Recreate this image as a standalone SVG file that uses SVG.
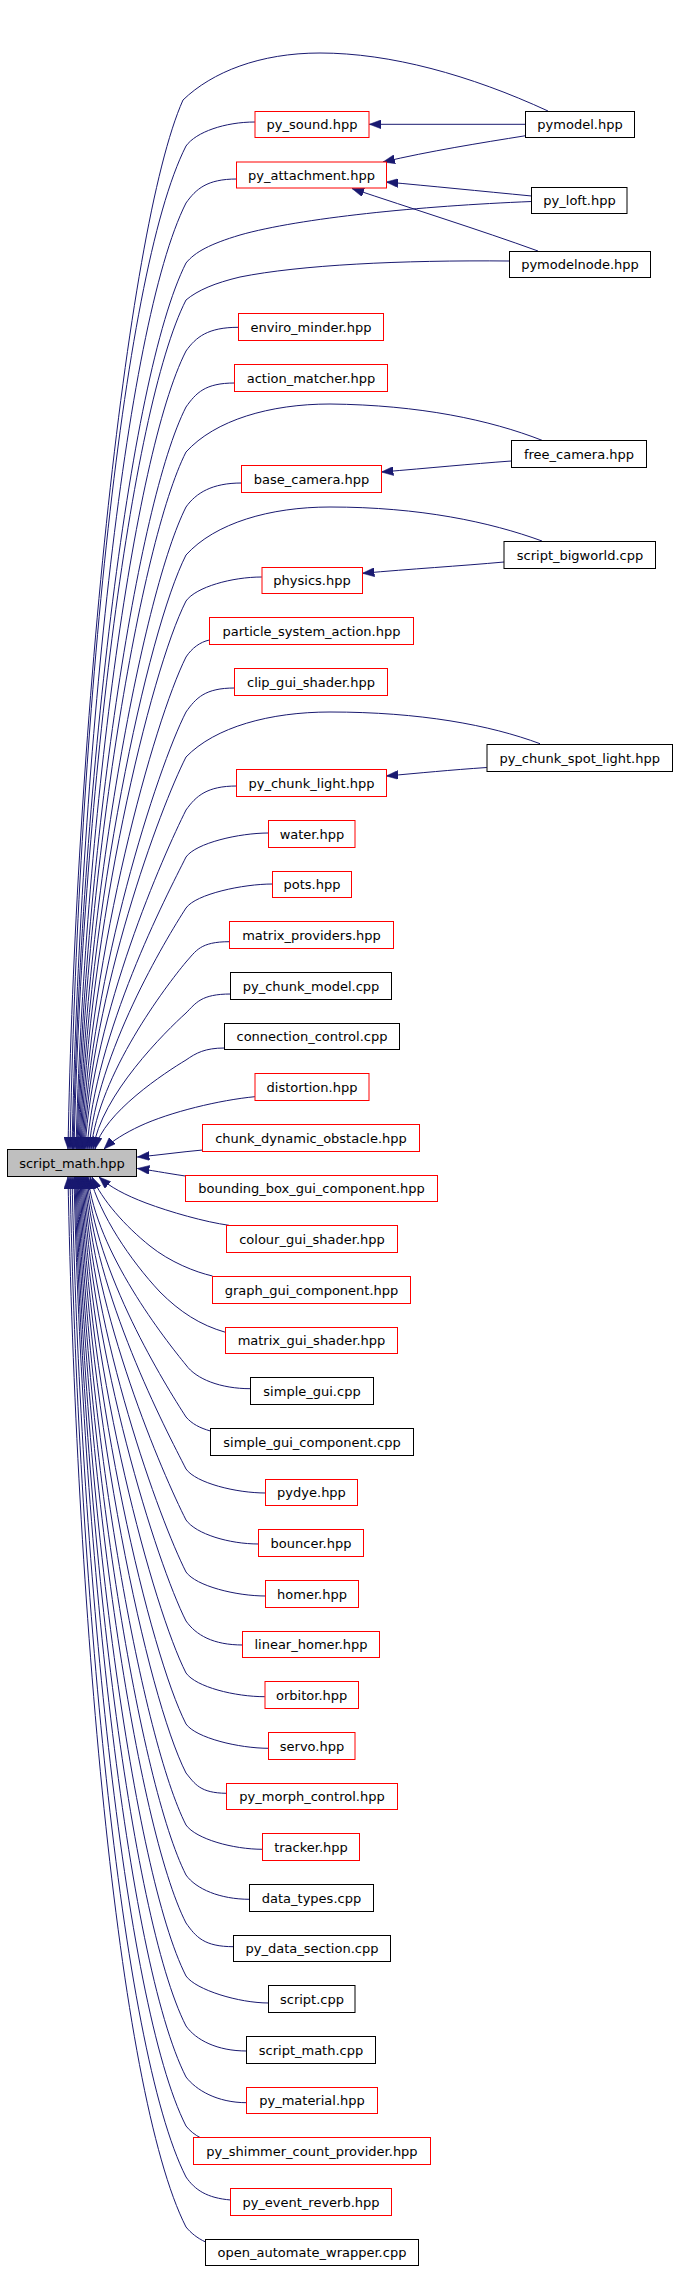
<svg xmlns="http://www.w3.org/2000/svg" width="674" height="2270" viewBox="0 0 674 2270">
<style>
rect{fill:#fff;stroke:#000;stroke-width:1}
.r rect{stroke:#f00}
.m rect{fill:#bfbfbf}
text{font-family:"DejaVu Sans","Liberation Sans",sans-serif;font-size:13px;fill:#000;text-anchor:middle}
#edges path{fill:none;stroke:#191970;stroke-width:1;marker-end:url(#a)}
</style>
<defs>
<marker id="a" viewBox="0 0 12 9" refX="12" refY="4.5" markerWidth="12" markerHeight="9" orient="auto" markerUnits="userSpaceOnUse"><path d="M0,0 L12,4.5 L0,9 Z" fill="#191970" stroke="#191970" stroke-width="0.5"/></marker>
</defs>
<rect x="0" y="0" width="674" height="2270" style="fill:#fff;stroke:none"/>
<g id="edges">
<path d="M254.9,122 C225,122 196,132 186,146 C120,276 78,748 70,1149"/>
<path d="M236.7,179 C207,179 196,189 186,203 C124,326 80,771 72,1149"/>
<path d="M238.4,327.3 C208,327.3 196,337 186,351 C133,455 84,830 76,1149"/>
<path d="M234.6,383 C205,383 196,393 186,407 C137,503 85,852 77,1149"/>
<path d="M241.5,483 C212,483 196,493 186,507 C144,590 87,892 79,1149"/>
<path d="M261.8,577 C232,577 196,587 186,601 C150,672 89,930 81,1149"/>
<path d="M209.5,640 C200,642 192,648 186,657 C154,721 90,952 82,1149"/>
<path d="M234.6,688 C205,688 196,698 186,712 C157,769 91,974 83,1149"/>
<path d="M236.7,786 C207,786 196,796 186,810 C164,854 93,1013 85,1149"/>
<path d="M268.7,833 C239,833 196,843 186,857 C167,895 95,1032 87,1149"/>
<path d="M272.6,884 C243,884 196,894 186,908 C166,939 97,1053 89,1149"/>
<path d="M229.4,941.7 C200,941.7 196,951 186,962 C166,986 99,1074 91,1149"/>
<path d="M230.7,994 C201,994 196,1003 186,1013 C166,1031 101,1095 93,1149"/>
<path d="M224.6,1048 C205,1048 196,1053 186,1060 C166,1072 103,1113 95,1149"/>
<path d="M254.9,1096.7 C220,1100 170,1112 140,1126 C125,1133 112,1141 104,1149"/>
<path d="M202.6,1150 C180,1152 160,1155 137.4,1157"/>
<path d="M185.3,1176 C165,1173 150,1170 137.4,1168.5"/>
<path d="M548,111 C470,75 390,53 320,53 C260,53 212,72 183,100 C125,230 75,750 68,1149"/>
<path d="M531.7,201.5 C420,206 300,218 240,235 C210,244 195,252 186,263 C128,378 81,795 73,1149"/>
<path d="M509.7,261 C400,260 300,265 240,277 C215,283 198,290 186,300 C130,410 82,809 74,1149"/>
<path d="M542,440.3 C490,420 420,405 330,404 C270,404 215,420 186,452 C140,543 86,870 78,1149"/>
<path d="M542,541 C490,522 420,507 330,507 C270,507 215,523 186,555 C147,632 88,911 80,1149"/>
<path d="M540,743.7 C490,725 420,712 330,712 C270,712 215,727 186,757 C160,808 92,992 84,1149"/>
<path d="M525.7,124.3 L369.3,124.3"/>
<path d="M525.7,135.7 C480,143 430,151 383,162"/>
<path d="M531.7,196 C480,191 430,186 386.2,182"/>
<path d="M538,251 C480,230 410,208 352,188.5"/>
<path d="M511.4,461 C470,464 430,468 381.4,472"/>
<path d="M504.1,562 C460,566 410,569 362.4,573.3"/>
<path d="M486.8,767.5 C450,770 420,773 386.2,776"/>
<path d="M229,1225.3 C205,1222 170,1212 146,1203 C125,1195 110,1187 99,1177"/>
<path d="M212.5,1276 C195,1272 170,1262 150,1246 C125,1226 102,1200 92,1177"/>
<path d="M225.5,1332.3 C200,1325 180,1312 160,1292 C130,1260 100,1215 90,1177"/>
<path d="M250.5,1388.7 C220.5,1388.7 196,1379 186,1365 C166,1340.6 96,1252 88,1177"/>
<path d="M210.4,1431 C200,1428 192,1424 186,1417 C166,1386 95,1273 87,1177"/>
<path d="M265.7,1493 C236,1493 196,1483 186,1469 C166.7,1431 94,1294 86,1177"/>
<path d="M258.7,1544 C229,1544 196,1534 186,1520 C163.4,1475.4 93,1314 85,1177"/>
<path d="M265.7,1596 C236,1596 196,1586 186,1572 C160,1520.7 92,1335 84,1177"/>
<path d="M242.8,1645 C213,1645 196,1635 186,1621 C156.7,1563 91,1354.6 83,1177"/>
<path d="M264.8,1696.7 C235,1696.7 196,1687 186,1673 C153.3,1608.5 90,1375.4 82,1177"/>
<path d="M268.7,1748.3 C239,1748.3 196,1738 186,1724 C150,1653 89,1395.8 81,1177"/>
<path d="M226.3,1793.3 C200,1793 195,1784 186,1773 C146.7,1695.5 88,1415.4 80,1177"/>
<path d="M262.6,1849.3 C233,1849.3 196,1839 186,1825 C143.2,1740.8 87,1436 79,1177"/>
<path d="M249.7,1899.3 C220,1899.3 196,1889 186,1875 C140,1784 86,1456 78,1177"/>
<path d="M233.7,1946.7 C204,1946.7 196,1937 186,1923 C136.8,1826 85,1475.4 77,1177"/>
<path d="M268.7,2003 C239,2003 196,1990 186,1976 C133.3,1872 84,1496.6 76,1177"/>
<path d="M246.7,2051 C217,2051 196,2040 186,2026 C130,1915.6 83,1516.6 75,1177"/>
<path d="M246.7,2102.7 C217,2102.7 196,2090 186,2077 C126.6,1960 82,1537 74,1177"/>
<path d="M200.9,2138 C195,2135 190,2131 186,2126 C123.4,2002.6 80,1556.6 72,1177"/>
<path d="M230.7,2200 C207,2198 195,2190 186,2177 C120,2047 78,1577 70,1177"/>
<path d="M205.6,2242 C197,2238 191,2233 186,2227 C116.7,2090.5 76,1597 68,1177"/>
</g>
<g id="n_script_math_hpp" class="m"><rect x="7.5" y="1149.5" width="129" height="27"/><text x="72" y="1167.5">script_math.hpp</text></g>
<g id="n_py_sound" class="r"><rect x="255" y="111.5" width="114" height="26"/><text x="312" y="129">py_sound.hpp</text></g>
<g id="n_pymodel"><rect x="525.5" y="111.5" width="109" height="26"/><text x="580" y="129">pymodel.hpp</text></g>
<g id="n_py_attachment" class="r"><rect x="236.5" y="162" width="150" height="26"/><text x="311.5" y="179.5">py_attachment.hpp</text></g>
<g id="n_py_loft"><rect x="531.5" y="187.5" width="95.5" height="26"/><text x="579.5" y="205">py_loft.hpp</text></g>
<g id="n_pymodelnode"><rect x="509.5" y="251.5" width="141" height="26"/><text x="580" y="269">pymodelnode.hpp</text></g>
<g id="n_enviro_minder" class="r"><rect x="238.5" y="313.5" width="145" height="27"/><text x="311" y="331.5">enviro_minder.hpp</text></g>
<g id="n_action_matcher" class="r"><rect x="234.5" y="364.5" width="153" height="27"/><text x="311" y="382.5">action_matcher.hpp</text></g>
<g id="n_free_camera"><rect x="511.5" y="440.5" width="135" height="27"/><text x="579" y="458.5">free_camera.hpp</text></g>
<g id="n_base_camera" class="r"><rect x="241.5" y="465.5" width="140" height="27"/><text x="311.5" y="483.5">base_camera.hpp</text></g>
<g id="n_script_bigworld"><rect x="504" y="541.5" width="151.5" height="27"/><text x="580" y="559.5">script_bigworld.cpp</text></g>
<g id="n_physics" class="r"><rect x="262" y="567.5" width="100.5" height="26"/><text x="312" y="585">physics.hpp</text></g>
<g id="n_particle_system_action" class="r"><rect x="209.5" y="617.5" width="204" height="27"/><text x="311.5" y="635.5">particle_system_action.hpp</text></g>
<g id="n_clip_gui_shader" class="r"><rect x="234.5" y="668.5" width="153" height="27"/><text x="311" y="686.5">clip_gui_shader.hpp</text></g>
<g id="n_py_chunk_spot_light"><rect x="487" y="744.5" width="185.5" height="27"/><text x="579.7" y="762.5">py_chunk_spot_light.hpp</text></g>
<g id="n_py_chunk_light" class="r"><rect x="236.5" y="769.5" width="150" height="27"/><text x="311.5" y="787.5">py_chunk_light.hpp</text></g>
<g id="n_water" class="r"><rect x="268.5" y="820.5" width="86.5" height="27"/><text x="312" y="838.5">water.hpp</text></g>
<g id="n_pots" class="r"><rect x="272.5" y="871.5" width="79" height="26"/><text x="312" y="889">pots.hpp</text></g>
<g id="n_matrix_providers" class="r"><rect x="229.5" y="921.5" width="164" height="27"/><text x="311.5" y="939.5">matrix_providers.hpp</text></g>
<g id="n_py_chunk_model"><rect x="230.5" y="972.5" width="161" height="27"/><text x="311" y="990.5">py_chunk_model.cpp</text></g>
<g id="n_connection_control"><rect x="224.5" y="1023.5" width="175" height="26"/><text x="312" y="1041">connection_control.cpp</text></g>
<g id="n_distortion" class="r"><rect x="255" y="1073.5" width="114" height="27"/><text x="312" y="1091.5">distortion.hpp</text></g>
<g id="n_chunk_dynamic_obstacle" class="r"><rect x="202.5" y="1124.5" width="217" height="27"/><text x="311" y="1142.5">chunk_dynamic_obstacle.hpp</text></g>
<g id="n_bounding_box_gui_component" class="r"><rect x="185.5" y="1175.5" width="252" height="26"/><text x="311.5" y="1193">bounding_box_gui_component.hpp</text></g>
<g id="n_colour_gui_shader" class="r"><rect x="226.5" y="1225.5" width="171" height="27"/><text x="312" y="1243.5">colour_gui_shader.hpp</text></g>
<g id="n_graph_gui_component" class="r"><rect x="212.5" y="1276.5" width="198" height="27"/><text x="311.5" y="1294.5">graph_gui_component.hpp</text></g>
<g id="n_matrix_gui_shader" class="r"><rect x="225.5" y="1327.5" width="172" height="26"/><text x="311.5" y="1345">matrix_gui_shader.hpp</text></g>
<g id="n_simple_gui"><rect x="250.5" y="1377.5" width="123" height="27"/><text x="312" y="1395.5">simple_gui.cpp</text></g>
<g id="n_simple_gui_component"><rect x="210.5" y="1428.5" width="203" height="27"/><text x="312" y="1446.5">simple_gui_component.cpp</text></g>
<g id="n_pydye" class="r"><rect x="265.5" y="1479.5" width="92" height="26"/><text x="311.5" y="1497">pydye.hpp</text></g>
<g id="n_bouncer" class="r"><rect x="258.5" y="1529.5" width="105" height="27"/><text x="311" y="1547.5">bouncer.hpp</text></g>
<g id="n_homer" class="r"><rect x="265.5" y="1580.5" width="93" height="27"/><text x="312" y="1598.5">homer.hpp</text></g>
<g id="n_linear_homer" class="r"><rect x="242.5" y="1631.5" width="137" height="26"/><text x="311" y="1649">linear_homer.hpp</text></g>
<g id="n_orbitor" class="r"><rect x="265" y="1681.5" width="93.5" height="27"/><text x="311.7" y="1699.5">orbitor.hpp</text></g>
<g id="n_servo" class="r"><rect x="268.5" y="1732.5" width="86.5" height="27"/><text x="312" y="1750.5">servo.hpp</text></g>
<g id="n_py_morph_control" class="r"><rect x="226.5" y="1783.5" width="171" height="26"/><text x="312" y="1801">py_morph_control.hpp</text></g>
<g id="n_tracker" class="r"><rect x="262.5" y="1833.5" width="97" height="27"/><text x="311" y="1851.5">tracker.hpp</text></g>
<g id="n_data_types"><rect x="249.5" y="1884.5" width="124" height="27"/><text x="311.5" y="1902.5">data_types.cpp</text></g>
<g id="n_py_data_section"><rect x="233.5" y="1935.5" width="157" height="26"/><text x="312" y="1953">py_data_section.cpp</text></g>
<g id="n_script_cpp"><rect x="268.5" y="1985.5" width="86.5" height="27"/><text x="312" y="2003.5">script.cpp</text></g>
<g id="n_script_math_cpp"><rect x="246.5" y="2036.5" width="129" height="27"/><text x="311" y="2054.5">script_math.cpp</text></g>
<g id="n_py_material" class="r"><rect x="246.5" y="2087.5" width="131" height="26"/><text x="312" y="2105">py_material.hpp</text></g>
<g id="n_py_shimmer_count_provider" class="r"><rect x="193.5" y="2137.5" width="237" height="27"/><text x="312" y="2155.5">py_shimmer_count_provider.hpp</text></g>
<g id="n_py_event_reverb" class="r"><rect x="230.5" y="2188.5" width="161" height="27"/><text x="311" y="2206.5">py_event_reverb.hpp</text></g>
<g id="n_open_automate_wrapper"><rect x="205.5" y="2239.5" width="213" height="26"/><text x="312" y="2257">open_automate_wrapper.cpp</text></g>
</svg>
